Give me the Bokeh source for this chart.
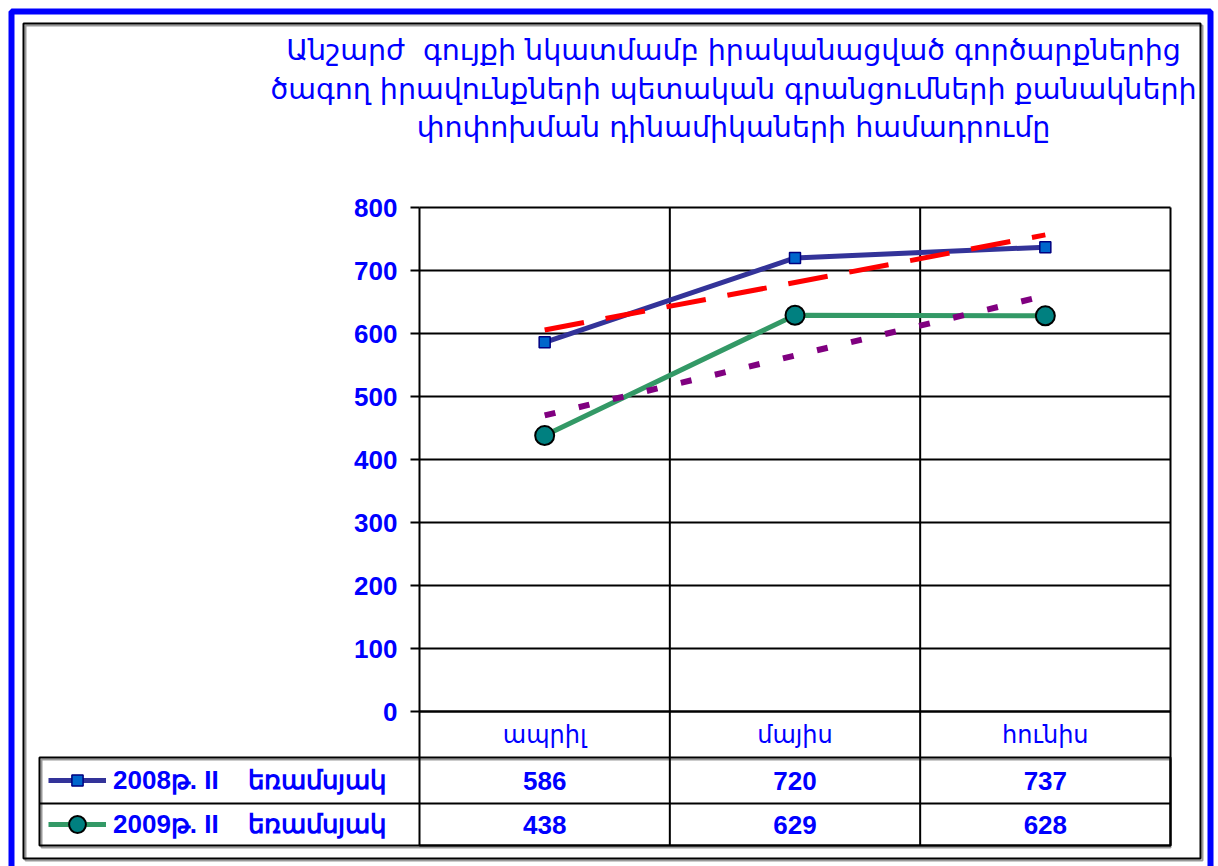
from bokeh.plotting import figure
from bokeh.models import FixedTicker, Label, BoxAnnotation, Legend, LegendItem, Range1d
from bokeh.embed import file_html
from bokeh.resources import INLINE
import numpy as np

# ---------------- data ----------------
title_lines = [
    "Անշարժ\u00a0 գույքի նկատմամբ իրականացված գործարքներից",
    "ծագող իրավունքների պետական գրանցումների քանակների",
    "փոփոխման դինամիկաների համադրումը",
]
months = ["ապրիլ", "մայիս", "հունիս"]
series_names = ["2008թ. II\u00a0\u00a0\u00a0 եռամսյակ", "2009թ. II\u00a0\u00a0\u00a0 եռամսյակ"]
q2_2008 = [586, 720, 737]
q2_2009 = [438, 629, 628]
y_ticks = [0, 100, 200, 300, 400, 500, 600, 700, 800]

# ---------------- layout (canvas pixels) ----------------
W, H = 1218, 866
FL, FR, FT, FB = 419, 1170, 207, 711     # plot area
YMIN, YMAX = 0, 800
BLUE = "#0000FF"
NUMFONT = "Liberation Sans"
ARMFONT = "DejaVu Sans"

ncat = len(months)
xpos = [i + 0.5 for i in range(ncat)]
px_x = (FR - FL) / ncat
px_y = (FB - FT) / (YMAX - YMIN)

p = figure(width=W, height=H,
           x_range=Range1d(-FL / px_x, ncat + (W - FR) / px_x),
           y_range=Range1d(YMIN - (H - FB) / px_y, YMAX + FT / px_y),
           output_backend="svg", toolbar_location=None,
           min_border=0, min_border_left=0, min_border_right=0,
           min_border_top=0, min_border_bottom=0)
p.background_fill_color = "white"
p.border_fill_color = "white"
p.outline_line_color = None
p.xgrid.visible = False
p.ygrid.visible = False

# y axis, drawn at the left edge of the plot area
p.yaxis.fixed_location = 0
p.yaxis.bounds = (YMIN, YMAX)
p.yaxis.ticker = FixedTicker(ticks=y_ticks)
p.yaxis.major_label_text_font = NUMFONT
p.yaxis.major_label_text_font_style = "bold"
p.yaxis.major_label_text_font_size = "26px"
p.yaxis.major_label_text_color = BLUE
p.yaxis.axis_line_color = "black"
p.yaxis.axis_line_width = 2
p.yaxis.major_tick_out = 9
p.yaxis.major_tick_in = 0
p.yaxis.major_tick_line_width = 2
p.yaxis.minor_tick_line_color = None
p.yaxis.major_label_standoff = 13

# x axis: category labels in the table header row
p.xaxis.fixed_location = 0
p.xaxis.bounds = (0, ncat)
p.xaxis.ticker = FixedTicker(ticks=xpos)
p.xaxis.major_label_overrides = {x: m for x, m in zip(xpos, months)}
p.xaxis.major_label_text_font = ARMFONT
p.xaxis.major_label_text_font_size = "24px"
p.xaxis.major_label_text_color = BLUE
p.xaxis.major_tick_line_color = None
p.xaxis.minor_tick_line_color = None
p.xaxis.axis_line_color = "black"
p.xaxis.axis_line_width = 2
p.xaxis.major_label_standoff = 3

# grid lines inside the plot area
p.segment(x0=0, x1=ncat, y0=y_ticks[1:], y1=y_ticks[1:], line_color="black", line_width=2)
p.segment(x0=list(range(1, ncat + 1)), x1=list(range(1, ncat + 1)), y0=YMIN, y1=YMAX,
          line_color="black", line_width=2)

# series
l1 = p.line(xpos, q2_2008, line_color="#333399", line_width=5)
l2 = p.line(xpos, q2_2009, line_color="#339966", line_width=5)

# linear trend lines (least squares, as in the original)
t1 = np.polyval(np.polyfit(xpos, q2_2008, 1), [xpos[0], xpos[-1]])
t2 = np.polyval(np.polyfit(xpos, q2_2009, 1), [xpos[0], xpos[-1]])
p.line([xpos[0], xpos[-1]], list(t1), line_color="#FF0000", line_width=5, line_dash="40 22")
p.line([xpos[0], xpos[-1]], list(t2), line_color="#800080", line_width=6, line_dash="11 24")

m1 = p.scatter(xpos, q2_2008, marker="square", size=11, fill_color="#0066CC",
               line_color="#000080", line_width=1.5)
m2 = p.scatter(xpos, q2_2009, marker="circle", size=19, fill_color="#008080",
               line_color="black", line_width=2)

# ---------------- frames ----------------
def box(l, r, t, b, lu="canvas", ru="canvas", tu="canvas", bu="canvas", color="black", width=2):
    return BoxAnnotation(left=l, right=r, top=t, bottom=b,
                         left_units=lu, right_units=ru, top_units=tu, bottom_units=bu,
                         fill_alpha=0, line_color=color, line_alpha=1, line_width=width)

p.add_layout(box(11, 1210, 11, 950, color=BLUE, width=6))
p.add_layout(box(25, 1202, 25, 860, color="#999999", width=2))
p.add_layout(box(23, 1200, 23, 858, color="black", width=2))

# table
ROW1_T, ROW2_T, TAB_B = 757, 803, 845
TAB_L = 39
p.add_layout(box(TAB_L + 2, ncat, ROW1_T + 2, TAB_B + 2, ru="data", color="#999999"))
p.add_layout(box(0, ncat, FB, TAB_B, lu="data", ru="data"))
p.add_layout(box(TAB_L, ncat, ROW1_T, TAB_B, ru="data"))
p.add_layout(box(TAB_L, ncat, ROW2_T, ROW2_T, ru="data"))
for k in range(1, ncat):
    p.add_layout(box(k, k, FB, TAB_B, lu="data", ru="data"))

row_centers = [(ROW1_T + ROW2_T) / 2, (ROW2_T + TAB_B) / 2]
for vals, yc in zip([q2_2008, q2_2009], row_centers):
    for x, v in zip(xpos, vals):
        p.add_layout(Label(x=x, y=yc, x_units="data", y_units="canvas", text=str(v),
                           text_align="center", text_baseline="middle",
                           text_font=NUMFONT, text_font_style="bold",
                           text_font_size="26px", text_color=BLUE))

legend_style = dict(orientation="vertical", padding=0, margin=0, spacing=0,
                    glyph_width=58, label_standoff=7,
                    border_line_color=None, background_fill_alpha=0,
                    label_text_font=NUMFONT, label_text_font_style="bold",
                    label_text_font_size="26px", label_text_color=BLUE)
leg1 = Legend(items=[LegendItem(label=series_names[0], renderers=[l1, m1])],
              location=(48, H - ROW2_T), glyph_height=28, label_height=ROW2_T - ROW1_T,
              **legend_style)
leg2 = Legend(items=[LegendItem(label=series_names[1], renderers=[l2, m2])],
              location=(48, H - TAB_B), glyph_height=TAB_B - ROW2_T,
              label_height=TAB_B - ROW2_T, **legend_style)
p.add_layout(leg1)
p.add_layout(leg2)

# title
for i, t in enumerate(title_lines):
    p.add_layout(Label(x=733, y=50 + 38.5 * i, x_units="canvas", y_units="canvas",
                       text=t, text_align="center", text_baseline="middle",
                       text_font=ARMFONT, text_font_size="28.5px", text_color=BLUE))

open("out.html", "w").write(file_html(p, INLINE))
